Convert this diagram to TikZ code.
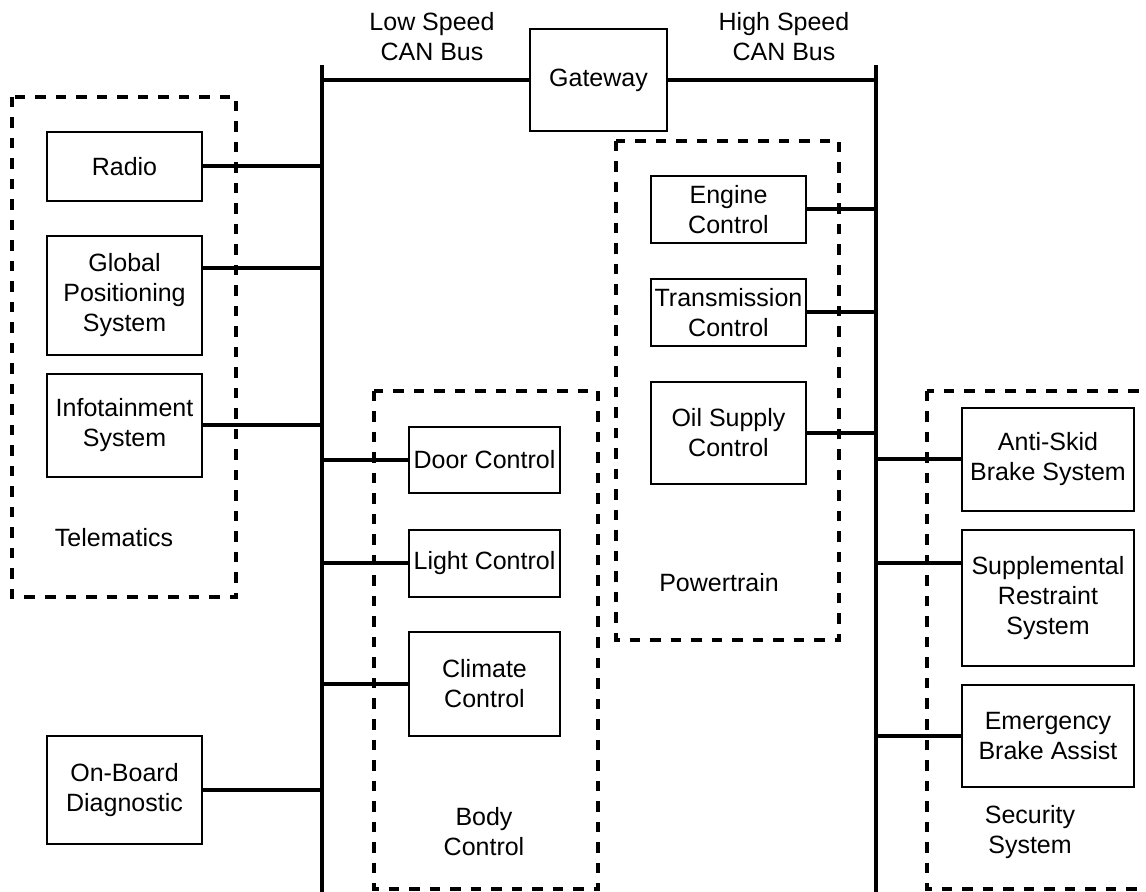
\documentclass[tikz,border=0pt]{standalone}
\usepackage{fontspec}
\setmainfont{Liberation Sans}

\begin{document}
\begin{tikzpicture}[x=0.5pt, y=-0.5pt,
    font=\fontsize{12.5}{15}\selectfont,
    ecu/.style={draw, line width=0.65pt, align=center, inner sep=0pt,
        minimum width=77.5pt},
    group/.style={line width=1.75pt, dash pattern=on 5.25pt off 5pt},
    bus/.style={line width=2.4pt},
    link/.style={line width=2pt}]

    % Marco
    \clip (0,0) rectangle (1146,892);

    % Grupos (lineas discontinuas)
    \draw[group] (12,97)   rectangle (236,597);
    \draw[group] (374,391) rectangle (598,889);
    \draw[group] (616,141) rectangle (839,640);
    \draw[group] (927,391) rectangle (1160,889);

    \node (telematics) at (114,538)  {Telematics};
    \node[align=center] (bodylbl) at (484,832) {Body\\Control};
    \node (powertrain) at (719,583)  {Powertrain};
    \node[align=center] (seclbl)  at (1030,832) {Security\\System};

    % Buses CAN
    \coordinate (lsbus) at (322,65);
    \coordinate (lsend) at (322,892);
    \coordinate (hsbus) at (876,65);
    \coordinate (hsend) at (876,892);
    \draw[bus] (lsbus) -- (lsend);
    \draw[bus] (hsbus) -- (hsend);

    \node[ecu, minimum width=68.5pt, minimum height=51pt]
        (gateway) at (598.5,80) {Gateway};
    \draw[bus] (lsbus |- gateway.west) -- (gateway.west);
    \draw[bus] (gateway.east) -- (hsbus |- gateway.east);

    \node[align=center] (lowlbl)  at (432,37) {Low Speed\\CAN Bus};
    \node[align=center] (highlbl) at (784,37) {High Speed\\CAN Bus};

    % Telematica
    \node[ecu, minimum height=34.5pt] (radio) at (124.5,166.5) {Radio};
    \node[ecu, minimum height=59.5pt] (gps)   at (124.5,295.5)
        {Global\\Positioning\\System};
    \node[ecu, minimum height=51.5pt] (info)  at (124.5,425.5)
        {Infotainment\\System};
    \node[ecu, minimum height=54pt]   (obd)   at (124.5,790)
        {On-Board\\Diagnostic};

    \draw[link] (radio.east) -- (radio.east -| lsbus);
    \draw[link] (gps.east) ++(0,-27.5) coordinate (gpsout)
        -- (gpsout -| lsbus);
    \draw[link] (info.east) -- (info.east -| lsbus);
    \draw[link] (obd.east) -- (obd.east -| lsbus);

    % Carroceria
    \node[ecu, minimum width=75.5pt, minimum height=33pt]
        (door)    at (484.5,460)   {Door Control};
    \node[ecu, minimum width=75.5pt, minimum height=33.5pt]
        (light)   at (484.5,563.5) {Light Control};
    \node[ecu, minimum width=75.5pt, minimum height=52pt]
        (climate) at (484.5,684)   {Climate\\Control};

    \foreach \n in {door, light, climate}
        \draw[link] (\n.west -| lsbus) -- (\n.west);

    % Tren motriz
    \node[ecu, minimum height=33.5pt] (engine) at (728.5,209.5)
        {Engine\\Control};
    \node[ecu, minimum height=33.5pt] (trans)  at (728.5,312.5)
        {Transmission\\Control};
    \node[ecu, minimum height=51pt]   (oil)    at (728.5,433)
        {Oil Supply\\Control};

    \foreach \n in {engine, trans, oil}
        \draw[link] (\n.east) -- (\n.east -| hsbus);

    % Seguridad
    \node[ecu, minimum width=86pt, minimum height=51.5pt]
        (abs)  at (1048,459.5) {Anti-Skid\\Brake System};
    \node[ecu, minimum width=86pt, minimum height=68pt]
        (srs)  at (1048,598)   {Supplemental\\Restraint\\System};
    \node[ecu, minimum width=86pt, minimum height=51pt]
        (eba)  at (1048,736)   {Emergency\\Brake Assist};

    \draw[link] (abs.west -| hsbus) -- (abs.west);
    \draw[link] (srs.west) ++(0,-35) coordinate (srsin)
        (srsin -| hsbus) -- (srsin);
    \draw[link] (eba.west -| hsbus) -- (eba.west);
\end{tikzpicture}
\end{document}
